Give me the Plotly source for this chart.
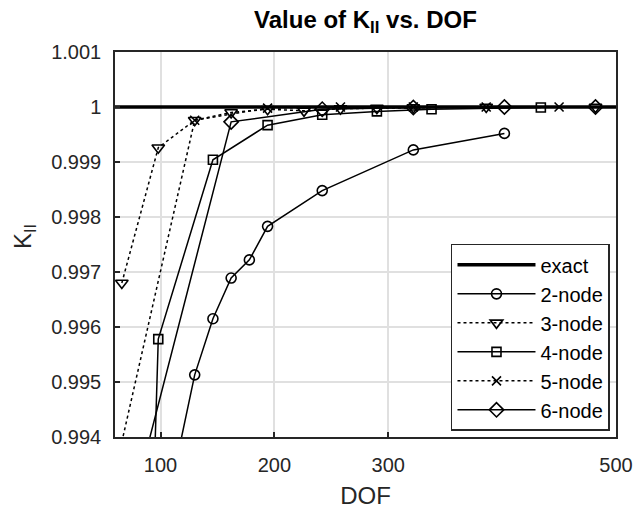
import plotly.graph_objects as go

# ---- data ----
exact_x = [60, 500]
exact_y = [1.0, 1.0]

dof_2 = [114, 130, 146, 162, 178, 194, 242, 322, 402]
k_2 = [0.99356, 0.99513, 0.99615, 0.99689, 0.99722, 0.99783, 0.99848, 0.99922, 0.99952]

dof_3 = [66, 98, 130, 162, 194, 226, 258, 290, 322, 386, 482]
k_3 = [0.99680, 0.99926, 0.99976, 0.99990, 0.99996, 0.99993, 0.99997, 0.99998, 0.99999, 1.0, 1.0]

dof_4 = [50, 98, 146, 194, 242, 290, 338, 434]
k_4 = [0.9631, 0.99578, 0.99904, 0.99967, 0.99986, 0.99992, 0.99996, 0.99999]

dof_5 = [66, 130, 194, 258, 322, 386, 450]
k_5 = [0.99391, 0.99976, 0.99998, 1.0, 1.0, 1.0, 1.0]

dof_6 = [82, 162, 242, 322, 402, 482]
k_6 = [0.99330, 0.99973, 0.99996, 0.99999, 1.0, 1.0]

x_ticks = [100, 200, 300, 500]
y_ticks = [0.994, 0.995, 0.996, 0.997, 0.998, 0.999, 1.0, 1.001]
y_tick_text = ["0.994", "0.995", "0.996", "0.997", "0.998", "0.999", "1", "1.001"]

FONT = "Liberation Sans, Arial, sans-serif"
AX = "#262626"

fig = go.Figure()
fig.add_trace(go.Scatter(x=exact_x, y=exact_y, mode="lines", name="exact",
                         line=dict(color="black", width=3.5)))

series = [
    ("2-node", dof_2, k_2, "circle-open", 10, "solid"),
    ("3-node", dof_3, k_3, "triangle-down-open", 11, "dot"),
    ("4-node", dof_4, k_4, "square-open", 9, "solid"),
    ("5-node", dof_5, k_5, "x-thin-open", 9, "dot"),
    ("6-node", dof_6, k_6, "diamond-open", 11, "solid"),
]
for name, xs, ys, sym, sz, dash in series:
    fig.add_trace(go.Scatter(
        x=xs, y=ys, mode="lines+markers", name=name,
        line=dict(color="black", width=1.5, dash=dash),
        marker=dict(symbol=sym, size=sz, color="black",
                    line=dict(color="black", width=1.6)),
    ))

fig.update_layout(
    width=635, height=509,
    margin=dict(l=115, r=19, t=52, b=72, autoexpand=False),
    paper_bgcolor="white", plot_bgcolor="white",
    font=dict(family=FONT, size=20, color=AX),
    title=dict(text="<b>Value of K<sub>II</sub> vs. DOF</b>",
               x=0.5755, xanchor="center", y=0.962, yanchor="middle",
               font=dict(family=FONT, size=24, color="black")),
    showlegend=True,
    legend=dict(x=0.988, y=0.016, xanchor="right", yanchor="bottom",
                bgcolor="white", bordercolor=AX, borderwidth=1.5,
                font=dict(family=FONT, size=20, color="black"),
                itemwidth=78, tracegroupgap=0),
    annotations=[dict(text="K<sub>II</sub>", textangle=-90, showarrow=False,
                      xref="paper", yref="paper", x=-0.181, y=0.52,
                      xanchor="center", yanchor="middle",
                      font=dict(family=FONT, size=24, color=AX))],
)
fig.update_xaxes(
    range=[60, 500], tickvals=x_ticks, ticktext=[str(v) for v in x_ticks],
    showgrid=True, gridcolor="#e0e0e0", gridwidth=1.5,
    showline=True, linecolor=AX, linewidth=1.5, mirror=True,
    ticks="inside", ticklen=5, tickcolor=AX, tickwidth=1.5,
    zeroline=False, ticklabelstandoff=9, automargin=False,
    title=dict(text="DOF", font=dict(family=FONT, size=24, color=AX), standoff=12),
)
fig.update_yaxes(
    range=[0.994, 1.001], tickvals=y_ticks, ticktext=y_tick_text,
    showgrid=True, gridcolor="#e0e0e0", gridwidth=1.5,
    showline=True, linecolor=AX, linewidth=1.5, mirror=True,
    ticks="inside", ticklen=5, tickcolor=AX, tickwidth=1.5,
    zeroline=False, ticklabelstandoff=8, automargin=False,
)

fig.write_html("out.html",
               config={"displayModeBar": False},
               post_script="document.body.style.margin='0';document.body.style.overflow='hidden';")
